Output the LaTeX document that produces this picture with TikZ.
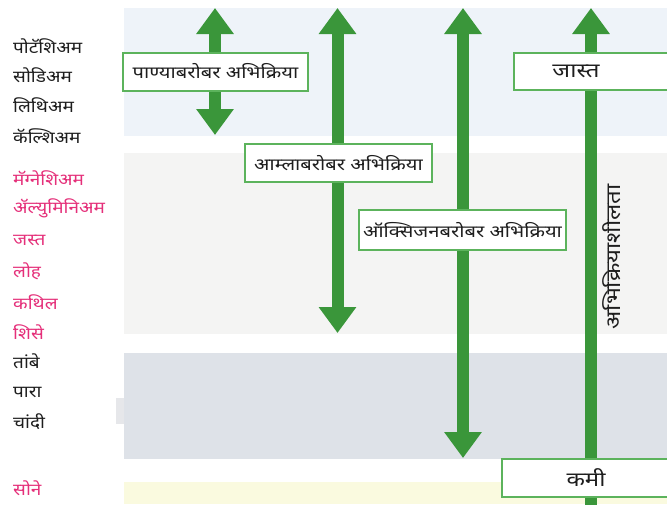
\documentclass[tikz,border=0pt]{standalone}
\usepackage{fontspec}
\newfontfamily\deva[Script=Devanagari,FakeStretch=1.2]{Noto Sans}
\newfontfamily\devalist[Script=Devanagari,FakeStretch=1.15]{Noto Sans}
\usetikzlibrary{arrows.meta}
\definecolor{arrowgreen}{HTML}{3A963A}
\definecolor{boxgreen}{HTML}{5CB35C}
\definecolor{bandA}{HTML}{EEF3F9}
\definecolor{bandB}{HTML}{F4F4F3}
\definecolor{bandC}{HTML}{DEE2E8}
\definecolor{bandD}{HTML}{FAFADF}
\definecolor{smallgray}{HTML}{E6E7EA}
\definecolor{metalpink}{HTML}{E5307A}
\definecolor{metalblack}{HTML}{1E1E1E}
\begin{document}
\begin{tikzpicture}[x=1pt,y=-1pt,
  garrow/.style={draw=arrowgreen, line width=12pt},
  bothtips/.style={arrows={Triangle[width=36pt,length=26pt]-Triangle[width=36pt,length=26pt]}},
  uptip/.style={arrows={Triangle[width=36pt,length=26pt]-}},
  gbox/.style={draw=boxgreen, line width=2pt, fill=white, inner sep=0pt, font=\deva\fontsize{16.8}{19}\selectfont, text=metalblack},
  boxtext/.style={font=\deva\fontsize{20}{22}\selectfont, text=metalblack, inner sep=0pt},
  metal/.style={anchor=west, inner sep=0pt, font=\devalist\fontsize{16.5}{18}\selectfont},
  blackmetal/.style={metal, text=metalblack},
  pinkmetal/.style={metal, text=metalpink}]
\useasboundingbox (0,0) rectangle (667,504);
\fill[white] (0,0) rectangle (667,504);
% bands
\fill[bandA] (124,8) rectangle (667,136);
\fill[bandB] (124,153) rectangle (667,334);
\fill[bandC] (124,353) rectangle (667,459);
\fill[bandD] (124,482) rectangle (667,504);
\fill[smallgray] (116,398) rectangle (124,424);
% arrow end points
\coordinate (w1t) at (215,8);
\coordinate (w1b) at (215,135);
\coordinate (a2t) at (337.5,8);
\coordinate (a2b) at (337.5,333);
\coordinate (o3t) at (463,8);
\coordinate (o3b) at (463,458);
\coordinate (rt) at (591,8);
\coordinate (rb) at (591,506);
\draw[garrow, bothtips] (w1t) -- (w1b);
\draw[garrow, bothtips] (a2t) -- (a2b);
\draw[garrow, bothtips] (o3t) -- (o3b);
\draw[garrow, uptip] (rt) -- (rb);
% boxes
\node[gbox, minimum width=185pt, minimum height=38pt] (water) at (215.5,71.5) {पाण्याबरोबर अभिक्रिया};
\node[gbox, minimum width=187pt, minimum height=38pt] (acid) at (338.5,163) {आम्लाबरोबर अभिक्रिया};
\node[gbox, minimum width=207pt, minimum height=40pt] (oxygen) at (462.5,230) {ऑक्सिजनबरोबर अभिक्रिया};
\node[gbox, minimum width=158pt, minimum height=37pt] (high) at (593,71.5) {};
\node[boxtext] (hightext) at (576,71.5) {जास्त};
\node[gbox, minimum width=170pt, minimum height=38pt] (low) at (587,478) {};
\node[boxtext] (lowtext) at (586,478) {कमी};
\node[boxtext, rotate=90] (reactivity) at (612,257) {अभिक्रियाशीलता};
% metals
\node[blackmetal] (k) at (13,46) {पोटॅशिअम};
\node[blackmetal] (na) at (13,75) {सोडिअम};
\node[blackmetal] (li) at (13,105) {लिथिअम};
\node[blackmetal] (ca) at (13,136) {कॅल्शिअम};
\node[pinkmetal] (mg) at (13,178) {मॅग्नेशिअम};
\node[pinkmetal] (al) at (13,208) {ॲल्युमिनिअम};
\node[pinkmetal] (zn) at (13,240) {जस्त};
\node[pinkmetal] (fe) at (13,271) {लोह};
\node[pinkmetal] (sn) at (13,302) {कथिल};
\node[pinkmetal] (pb) at (13,332) {शिसे};
\node[blackmetal] (cu) at (13,361) {तांबे};
\node[blackmetal] (hg) at (13,392) {पारा};
\node[blackmetal] (ag) at (13,422) {चांदी};
\node[pinkmetal] (au) at (13,488) {सोने};
\end{tikzpicture}
\end{document}
